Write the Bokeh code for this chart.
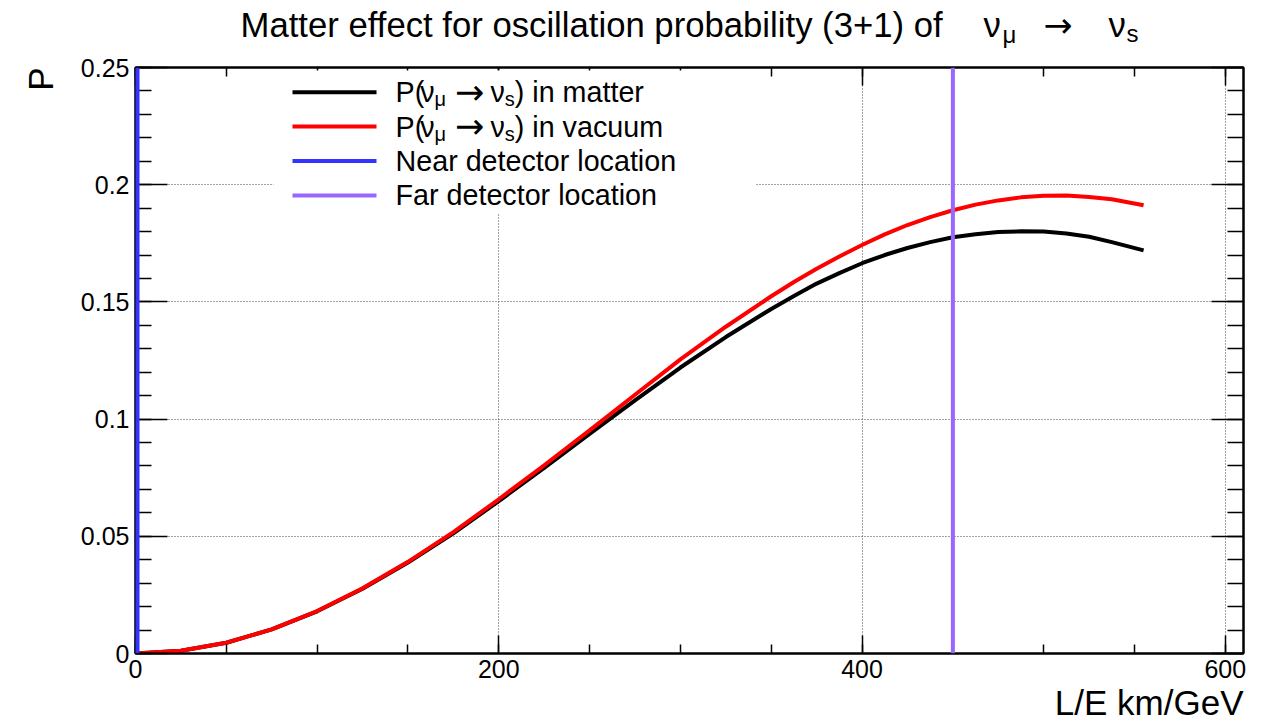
import math
from bokeh.plotting import figure
from bokeh.layouts import column
from bokeh.core.properties import value
from bokeh.models import (Range1d, LinearAxis, FixedTicker, Label, BoxAnnotation, Arrow,
                          Span, Grid, CustomJSTickFormatter, Title)
from bokeh.embed import file_html
from bokeh.resources import INLINE

# ---------------- data ----------------
L_over_E = [0, 25, 50, 75, 100, 125, 150, 175, 200, 225, 250, 275, 300, 325, 350,
            362.5, 375, 387.5, 400, 412.5, 425, 437.5, 450, 462.5, 475, 487.5, 500,
            512.5, 525, 537.5, 555]
p_vacuum = [0.0, 0.0012, 0.0046, 0.0103, 0.0181, 0.0278, 0.0391, 0.0518, 0.0658, 0.0803,
            0.0952, 0.1104, 0.1255, 0.1394, 0.1524,
            0.1585, 0.1641, 0.1694, 0.1743, 0.1788, 0.1828, 0.1862, 0.1891, 0.1915,
            0.1933, 0.1946, 0.1953, 0.1954, 0.1948, 0.1938, 0.1912]
p_matter = [0.0, 0.0012, 0.0046, 0.0103, 0.0180, 0.0276, 0.0388, 0.0513, 0.0650, 0.0792,
            0.0937, 0.1080, 0.1220, 0.1350, 0.1470,
            0.1525, 0.1578, 0.1623, 0.1665, 0.1700, 0.1730, 0.1755, 0.1776, 0.1789,
            0.1798, 0.1801, 0.1800, 0.1792, 0.1778, 0.1755, 0.1720]
detector_LE = [0, 450]
detector_names = ["Near detector location", "Far detector location"]
x_ticks = [0, 200, 400, 600]
x_minor = [0, 50, 100, 150, 200, 250, 300, 350, 400, 450, 500, 550, 600]
y_ticks = [0, 0.05, 0.1, 0.15, 0.2, 0.25]
y_tick_labels = ["0", "0.05", "0.1", "0.15", "0.2", "0.25"]
y_minor = [round(0.01 * i, 2) for i in range(26)]

# ---------------- layout ----------------
W, H = 1264, 724
TH = 50                      # height of the title strip
FL, FR, FT, FB = 135, 1243, 67, 653
FONT = "Liberation Sans"
ARROW_FONT = "DejaVu Sans"
BLUE = "#3333ff"
VIOLET = "#9966ff"
MID = 0.35                   # baseline -> visual middle, in em

EM = {' ': .278, '(': .333, ')': .333, '+': .584, '.': .278, '/': .278, '1': .556, '3': .556,
      'M': .833, 'P': .667, 'N': .722, 'F': .611, 'L': .556, 'E': .667, 'G': .778, 'V': .667,
      'a': .556, 'b': .556, 'c': .5, 'd': .556, 'e': .556, 'f': .278, 'g': .556, 'h': .556,
      'i': .222, 'k': .5, 'l': .222, 'm': .833, 'n': .556, 'o': .556, 'p': .556, 'r': .333,
      's': .5, 't': .278, 'u': .556, 'v': .5, 'y': .5, 'ν': .5, 'μ': .577, '→': .838}


def tw(s, size):
    return sum(EM.get(c, .556) for c in s) * size


# ---------------- title strip ----------------
# In a column the strip's frame is aligned with the main plot frame (FL..FR),
# so its x range is expressed in page pixels over that span.
pt = figure(width=W, height=TH, x_range=Range1d(FL, FR), y_range=Range1d(TH, 0),
            x_axis_type=None, y_axis_type=None, output_backend="svg",
            toolbar_location=None, title_location=None, min_border=0,
            min_border_left=FL, min_border_right=W - FR, min_border_top=0,
            min_border_bottom=0)
pt.outline_line_color = None

TS = 34.7
title_pieces = [  # (x, baseline, text, size, font)
    (240, 37, "Matter effect for oscillation probability (3+1) of", TS, FONT),
    (983, 37, "ν", TS, FONT),
    (1002, 42, "μ", 24, FONT),
    (1043, 37, "→", TS, ARROW_FONT),
    (1108, 37, "ν", TS, FONT),
    (1126, 41, "s", 24, FONT),
]
for tx, ty, txt, size, font in title_pieces:
    pt.text(x=[tx], y=[ty - MID * size], text=[txt], text_font=value(font),
            text_font_size=value(f"{size}px"), text_color="black",
            text_align="left", text_baseline="middle")

# ---------------- main plot ----------------
p = figure(width=W, height=H - TH, x_range=Range1d(0, 610), y_range=Range1d(0, 0.25),
           x_axis_type=None, y_axis_type=None, output_backend="svg", toolbar_location=None,
           title_location=None,
           min_border_left=FL, min_border_right=W - FR, min_border_top=FT - TH,
           min_border_bottom=H - FB)
p.outline_line_color = "black"
p.outline_line_width = 2


def make_axis(ticks, minor, t_in, m_in, overrides=None, hide=False):
    ax = LinearAxis(ticker=FixedTicker(ticks=ticks, minor_ticks=minor))
    ax.major_tick_in = t_in
    ax.major_tick_out = 0
    ax.minor_tick_in = m_in
    ax.minor_tick_out = 0
    ax.axis_line_width = 2
    ax.axis_line_color = "black"
    ax.major_tick_line_width = 1.5
    ax.minor_tick_line_width = 1.5
    ax.major_tick_line_color = "black"
    ax.minor_tick_line_color = "black"
    ax.major_label_text_font = FONT
    ax.major_label_text_font_size = "25px"
    ax.major_label_text_color = "black"
    ax.major_label_standoff = 6
    if overrides:
        ax.major_label_overrides = overrides
    if hide:
        ax.formatter = CustomJSTickFormatter(code="return ''")
        ax.major_label_text_font_size = "0px"
        ax.major_label_standoff = 0
    return ax


p.add_layout(make_axis(x_ticks, x_minor, 18, 9), "below")
p.add_layout(make_axis(x_ticks, x_minor, 18, 9, hide=True), "above")
p.add_layout(make_axis(y_ticks, y_minor, 32, 16, overrides=dict(zip(y_ticks, y_tick_labels))), "left")
p.add_layout(make_axis(y_ticks, y_minor, 32, 16, hide=True), "right")

# axis titles (ROOT style: at the far ends)
p.add_layout(Title(text="L/E km/GeV", align="right", text_font=FONT, text_font_size="35px",
                   text_font_style="normal", text_color="black", standoff=0), "below")
p.add_layout(Title(text="P", align="right", text_font=FONT, text_font_size="35px",
                   text_font_style="normal", text_color="black", standoff=36), "left")

for dim, tk in ((0, x_ticks), (1, y_ticks)):
    g = Grid(dimension=dim, ticker=FixedTicker(ticks=tk))
    g.grid_line_color = "#444444"
    g.grid_line_dash = "1 2"
    g.grid_line_width = 1
    p.add_layout(g)

# curves
p.line(L_over_E, p_matter, line_color="black", line_width=4)
p.line(L_over_E, p_vacuum, line_color="red", line_width=4)

# detector locations
for loc, col, lw in zip(detector_LE, [BLUE, VIOLET], [8, 4]):
    p.add_layout(Span(location=loc, dimension="height", line_color=col, line_width=lw,
                      level="overlay"))

# ---------------- legend (pixel positions relative to the page) ----------------
p.add_layout(BoxAnnotation(left=273 - FL, right=755 - FL, top=FB - 70, bottom=FB - 213,
                           left_units="screen", right_units="screen", top_units="screen",
                           bottom_units="screen", fill_color="white", fill_alpha=1.0,
                           line_alpha=0, level="annotation"))
LS = 28.7
rows_y = [91.7, 126.1, 160.5, 194.9]
row_cols = ["black", "red", BLUE, VIOLET]
for ry, col in zip(rows_y, row_cols):
    p.add_layout(Arrow(x_start=292 - FL, y_start=FB - ry, x_end=376 - FL, y_end=FB - ry,
                       start_units="screen", end_units="screen", end=None,
                       line_color=col, line_width=4))


def runs(x0, base, items):
    """items: (text, size, dy[, font]) or a number = extra gap in px."""
    x = x0
    for it in items:
        if isinstance(it, (int, float)):
            x += it
            continue
        txt, size, dy = it[:3]
        font = it[3] if len(it) > 3 else FONT
        cy = base + dy - MID * size
        p.add_layout(Label(x=x - FL, y=FB - cy, x_units="screen", y_units="screen",
                           text=txt, text_font=font, text_font_size=f"{size}px",
                           text_color="black", text_align="left", text_baseline="middle"))
        x += tw(txt, size)


def prob_runs(suffix):
    return [("P(", LS, 0), -4, ("ν", LS, 0), ("μ", 20, 4), 9, ("→", 35, 2, ARROW_FONT), 6,
            ("ν", LS, 0), ("s", 20, 4), (")" + suffix, LS, 0)]


base_off = MID * LS
runs(395, rows_y[0] + base_off, prob_runs(" in matter"))
runs(395, rows_y[1] + base_off, prob_runs(" in vacuum"))
runs(395, rows_y[2] + base_off, [(detector_names[0], LS, 0)])
runs(395, rows_y[3] + base_off, [(detector_names[1], LS, 0)])

layout = column(pt, p, spacing=0)
open("out.html", "w").write(file_html(layout, INLINE))
